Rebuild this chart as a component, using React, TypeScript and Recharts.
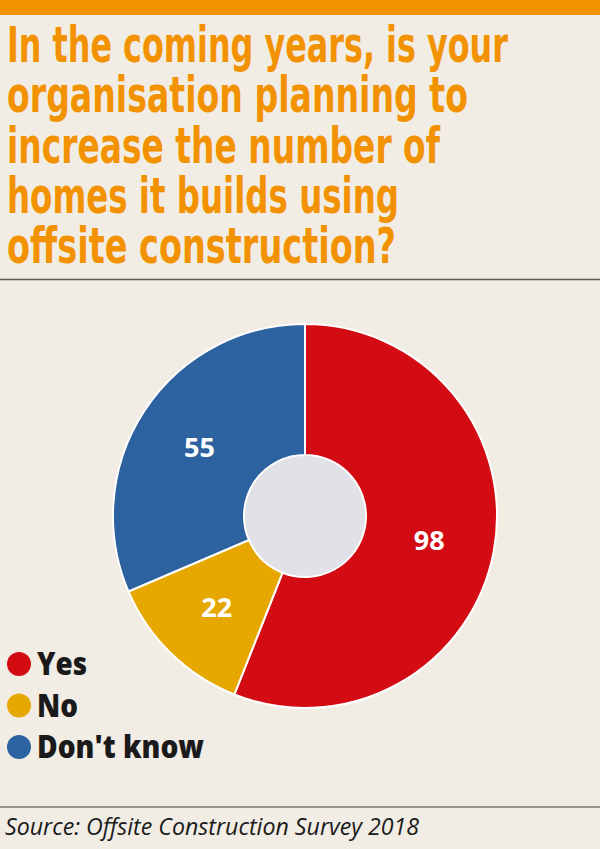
import React from "react";
import { PieChart, Pie, Cell } from "recharts";

const categories = ["Yes", "No", "Don't know"];
const values = [98, 22, 55];
const colors = ["#D30B13", "#E6A800", "#2C62A0"];
const titleLines = [
  "In the coming years, is your",
  "organisation planning to",
  "increase the number of",
  "homes it builds using",
  "offsite construction?",
];
const titleWidths = [501, 461, 433, 392, 389];
const legendWidths = [50, 41, 167];
const sourceText = "Source: Offsite Construction Survey 2018";
const centerData = [{ name: "center", value: 1 }];

const data = categories.map((c, i) => ({ name: c, value: values[i] }));

const RAD = Math.PI / 180;
const renderLabel = (props: any) => {
  const { cx, cy, midAngle, innerRadius, outerRadius, value } = props;
  const r = (innerRadius + outerRadius) / 2;
  const x = cx + r * Math.cos(-midAngle * RAD);
  const y = cy + r * Math.sin(-midAngle * RAD);
  return (
    <text
      x={x}
      y={y}
      fill="#FFFFFF"
      textAnchor="middle"
      dominantBaseline="central"
      fontFamily="'Open Sans', sans-serif"
      fontWeight={700}
      fontSize={27}
    >
      {value}
    </text>
  );
};

export default function App() {
  const W = 600;
  const H = 849;
  return (
    <div
      style={{
        position: "absolute",
        left: 0,
        top: 0,
        width: W,
        height: H,
        background: "#F1EDE5",
        overflow: "hidden",
      }}
    >
      <svg width={W} height={H} style={{ position: "absolute", left: 0, top: 0 }}>
        <rect x={0} y={0} width={W} height={15} fill="#F39200" />
        {titleLines.map((t, i) => (
          <text
            key={i}
            x={7}
            y={62 + i * 50.25}
            fill="#F39200"
            fontFamily="'Liberation Sans Narrow', 'DejaVu Sans Condensed', 'Open Sans', sans-serif"
            fontWeight={700}
            fontSize={50}
            textLength={titleWidths[i]}
            lengthAdjust="spacingAndGlyphs"
          >
            {t}
          </text>
        ))}
        <line x1={0} x2={W} y1={279.5} y2={279.5} stroke="#5A5A5A" strokeWidth={1.5} />
        {categories.map((c, i) => {
          const cy = 664 + i * 41.5;
          return (
            <g key={c}>
              <circle cx={19} cy={cy} r={12} fill={colors[i]} />
              <text
                x={37}
                y={cy + 11}
                fill="#1A1A1A"
                fontFamily="'Open Sans', sans-serif"
                fontWeight={800}
                fontSize={32}
                textLength={legendWidths[i]}
                lengthAdjust="spacingAndGlyphs"
              >
                {c}
              </text>
            </g>
          );
        })}
        <line x1={0} x2={W} y1={807} y2={807} stroke="#3A3A3A" strokeWidth={1.2} />
        <text
          x={5}
          y={835}
          fill="#1A1A1A"
          fontFamily="'Open Sans', sans-serif"
          fontStyle="italic"
          fontWeight={400}
          fontSize={23}
          textLength={414}
          lengthAdjust="spacingAndGlyphs"
        >
          {sourceText}
        </text>
      </svg>
      <div style={{ position: "absolute", left: 0, top: 0 }}>
        <PieChart width={W} height={H} margin={{ top: 0, right: 0, bottom: 0, left: 0 }}>
          <Pie
            data={data}
            dataKey="value"
            nameKey="name"
            cx={305}
            cy={516}
            innerRadius={61}
            outerRadius={192}
            startAngle={90}
            endAngle={-270}
            stroke="#FFFFFF"
            strokeWidth={2}
            label={renderLabel}
            labelLine={false}
            isAnimationActive={false}
          >
            {data.map((d, i) => (
              <Cell key={d.name} fill={colors[i]} />
            ))}
          </Pie>
          <Pie
            data={centerData}
            dataKey="value"
            cx={305}
            cy={516}
            innerRadius={0}
            outerRadius={60}
            stroke="none"
            fill="#E1E2E7"
            isAnimationActive={false}
          />
        </PieChart>
      </div>
    </div>
  );
}
